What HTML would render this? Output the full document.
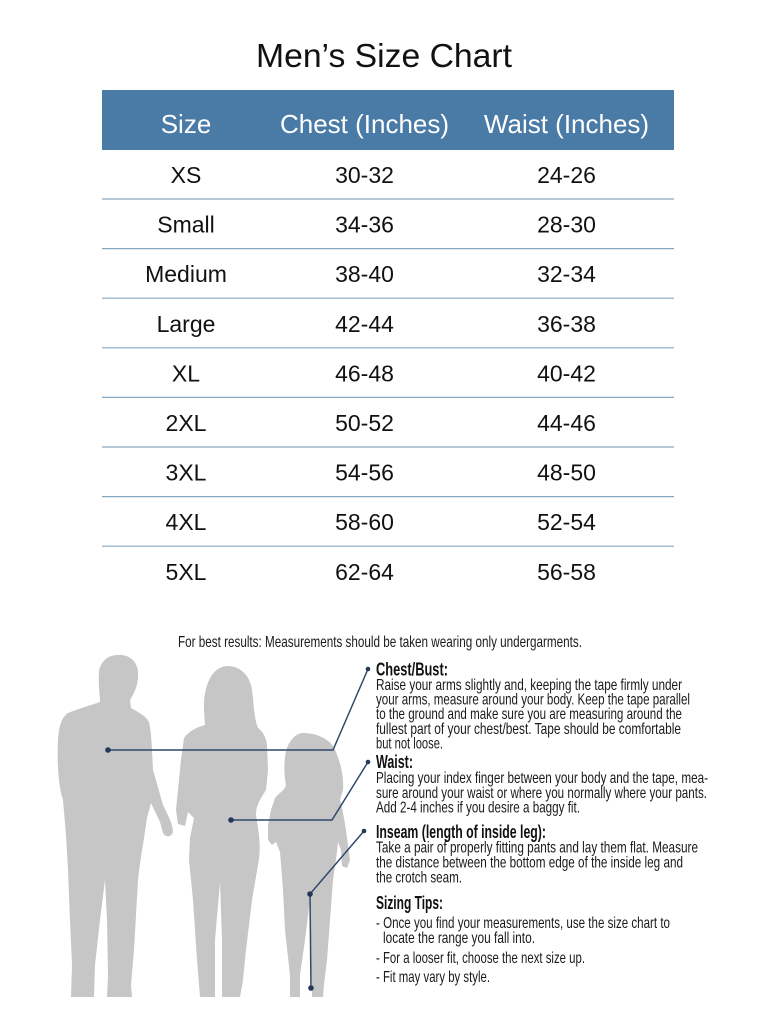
<!DOCTYPE html>
<html>
<head>
<meta charset="utf-8">
<style>
  html, body { margin: 0; padding: 0; background: #ffffff; }
  body { width: 768px; height: 1024px; overflow: hidden; }
  svg { display: block; }
  .t { font-family: "Liberation Sans", Arial, sans-serif; }
  .row { font-size: 23px; fill: #111111; }
  .hd { font-size: 26px; fill: #ffffff; }
  .small { font-family: "Liberation Sans Narrow", "Liberation Sans", Arial, sans-serif; font-size: 16px; fill: #1a1a1a; }
  .bold { font-family: "Liberation Sans Narrow", "Liberation Sans", Arial, sans-serif; font-size: 18px; font-weight: bold; fill: #111111; }
</style>
</head>
<body>
<svg width="768" height="1024" viewBox="0 0 768 1024" xmlns="http://www.w3.org/2000/svg">
  <rect x="0" y="0" width="768" height="1024" fill="#ffffff"/>

  <!-- Title -->
  <text class="t" x="256" y="67" font-size="33" fill="#111111" textLength="256" lengthAdjust="spacingAndGlyphs">Men’s Size Chart</text>

  <!-- Header -->
  <rect x="102" y="90" width="572" height="60" fill="#4a7ba6"/>
  <text class="t hd" x="186" y="133" text-anchor="middle">Size</text>
  <text class="t hd" x="364.5" y="133" text-anchor="middle">Chest (Inches)</text>
  <text class="t hd" x="566.5" y="133" text-anchor="middle">Waist (Inches)</text>

  <!-- Row separator lines -->
  <g stroke="#86a7c0" stroke-width="1.2">
    <line x1="102" y1="199" x2="674" y2="199"/>
    <line x1="102" y1="248.6" x2="674" y2="248.6"/>
    <line x1="102" y1="298.2" x2="674" y2="298.2"/>
    <line x1="102" y1="347.8" x2="674" y2="347.8"/>
    <line x1="102" y1="397.4" x2="674" y2="397.4"/>
    <line x1="102" y1="447" x2="674" y2="447"/>
    <line x1="102" y1="496.6" x2="674" y2="496.6"/>
    <line x1="102" y1="546.2" x2="674" y2="546.2"/>
  </g>

  <!-- Rows -->
  <g class="t row" text-anchor="middle">
    <text x="186" y="183">XS</text><text x="364.5" y="183">30-32</text><text x="566.5" y="183">24-26</text>
    <text x="186" y="232.6">Small</text><text x="364.5" y="232.6">34-36</text><text x="566.5" y="232.6">28-30</text>
    <text x="186" y="282.2">Medium</text><text x="364.5" y="282.2">38-40</text><text x="566.5" y="282.2">32-34</text>
    <text x="186" y="331.8">Large</text><text x="364.5" y="331.8">42-44</text><text x="566.5" y="331.8">36-38</text>
    <text x="186" y="381.4">XL</text><text x="364.5" y="381.4">46-48</text><text x="566.5" y="381.4">40-42</text>
    <text x="186" y="431">2XL</text><text x="364.5" y="431">50-52</text><text x="566.5" y="431">44-46</text>
    <text x="186" y="480.6">3XL</text><text x="364.5" y="480.6">54-56</text><text x="566.5" y="480.6">48-50</text>
    <text x="186" y="530.2">4XL</text><text x="364.5" y="530.2">58-60</text><text x="566.5" y="530.2">52-54</text>
    <text x="186" y="579.8">5XL</text><text x="364.5" y="579.8">62-64</text><text x="566.5" y="579.8">56-58</text>
  </g>

  <!-- Intro line -->
  <text class="small" x="178" y="647" textLength="404" lengthAdjust="spacingAndGlyphs">For best results: Measurements should be taken wearing only undergarments.</text>

  <!-- Silhouettes -->
  <g fill="#c6c6c6">
    <!-- Man -->
    <path d="M117,655 C128,654 137,660 138,672 C139,684 134,694 130,700 L131,708 C138,712 146,716 149,722 C152,735 152,755 153,770 L163,805 C168,815 173,825 173,832 C171,838 165,837 163,833 L160,822 L151,803 L147,818 C144,840 140,860 138,880 L134,950 L131,985 L132,997 L107,997 L108,975 L107,920 L105,880 L100,920 L95,965 L94,997 L71,997 L72,965 L70,920 L68,870 L66,835 L63,800 C58,785 57,760 58,740 C59,725 62,717 68,713 C80,708 92,705 100,702 C100,695 98,685 99,672 C100,662 108,655 117,655 Z"/>
    <!-- Woman -->
    <path d="M227,666 C240,666 250,675 252,690 C254,705 254,718 258,728 C263,732 266,737 267,745 L268,770 L266,790 C260,800 256,805 256,815 C258,830 262,845 258,865 L252,900 L246,950 L243,980 L240,997 L222,997 L222,940 L220,882 L215,940 L215,997 L200,997 L197,960 L193,900 L189,860 L190,838 L194,818 L188,812 L185,826 L178,824 L176,810 L178,790 L181,760 L184,738 C190,730 198,727 205,725 L204,710 C203,690 210,667 227,666 Z"/>
    <!-- Child -->
    <path d="M303,733 C318,733 332,740 336,752 C340,762 344,775 343,790 L340,800 C344,815 346,830 348,845 L350,860 L347,868 L342,866 L341,850 L338,842 L337,852 L333,880 L330,920 L327,960 L324,985 L323,997 L312,997 L311,940 L310,900 L305,940 L300,975 L300,997 L290,997 L290,975 L285,930 L283,890 L280,852 L276,842 L272,845 L268,840 L268,825 L271,810 L275,798 C280,792 285,790 286,785 C283,770 284,750 290,742 C294,736 298,733 303,733 Z"/>
  </g>

  <!-- Leader lines -->
  <g stroke="#2f4a6a" stroke-width="1.5" fill="none">
    <polyline points="108,750 333,750 368,669"/>
    <polyline points="231,820 332,820 368,762"/>
    <polyline points="364,831 310,894 311,988"/>
  </g>
  <g fill="#24395a">
    <circle cx="108" cy="750" r="2.8"/>
    <circle cx="368" cy="669" r="2.3"/>
    <circle cx="231" cy="820" r="2.8"/>
    <circle cx="368" cy="762" r="2.3"/>
    <circle cx="364" cy="831" r="2.3"/>
    <circle cx="310" cy="894" r="2.8"/>
    <circle cx="311" cy="988" r="2.8"/>
  </g>

  <!-- Instructions -->
  <text class="bold" x="376" y="675.5" textLength="72" lengthAdjust="spacingAndGlyphs">Chest/Bust:</text>
  <text class="small" x="376" y="690" textLength="306" lengthAdjust="spacingAndGlyphs">Raise your arms slightly and, keeping the tape firmly under</text>
  <text class="small" x="376" y="704.6" textLength="314" lengthAdjust="spacingAndGlyphs">your arms, measure around your body. Keep the tape parallel</text>
  <text class="small" x="376" y="719.2" textLength="306" lengthAdjust="spacingAndGlyphs">to the ground and make sure you are measuring around the</text>
  <text class="small" x="376" y="733.8" textLength="305" lengthAdjust="spacingAndGlyphs">fullest part of your chest/best. Tape should be comfortable</text>
  <text class="small" x="376" y="748.4" textLength="67" lengthAdjust="spacingAndGlyphs">but not loose.</text>

  <text class="bold" x="376" y="768" textLength="37" lengthAdjust="spacingAndGlyphs">Waist:</text>
  <text class="small" x="376" y="783" textLength="332" lengthAdjust="spacingAndGlyphs">Placing your index finger between your body and the tape, mea-</text>
  <text class="small" x="376" y="798" textLength="331" lengthAdjust="spacingAndGlyphs">sure around your waist or where you normally where your pants.</text>
  <text class="small" x="376" y="812.5" textLength="204" lengthAdjust="spacingAndGlyphs">Add 2-4 inches if you desire a baggy fit.</text>

  <text class="bold" x="376" y="838" textLength="170" lengthAdjust="spacingAndGlyphs">Inseam (length of inside leg):</text>
  <text class="small" x="376" y="852.5" textLength="322" lengthAdjust="spacingAndGlyphs">Take a pair of properly fitting pants and lay them flat. Measure</text>
  <text class="small" x="376" y="867.5" textLength="307" lengthAdjust="spacingAndGlyphs">the distance between the bottom edge of the inside leg and</text>
  <text class="small" x="376" y="882.5" textLength="86" lengthAdjust="spacingAndGlyphs">the crotch seam.</text>

  <text class="bold" x="376" y="909" textLength="67" lengthAdjust="spacingAndGlyphs">Sizing Tips:</text>
  <text class="small" x="376" y="928" textLength="294" lengthAdjust="spacingAndGlyphs">- Once you find your measurements, use the size chart to</text>
  <text class="small" x="383" y="943" textLength="152" lengthAdjust="spacingAndGlyphs">locate the range you fall into.</text>
  <text class="small" x="376" y="963" textLength="209" lengthAdjust="spacingAndGlyphs">- For a looser fit, choose the next size up.</text>
  <text class="small" x="376" y="982" textLength="114" lengthAdjust="spacingAndGlyphs">- Fit may vary by style.</text>
</svg>
</body>
</html>
